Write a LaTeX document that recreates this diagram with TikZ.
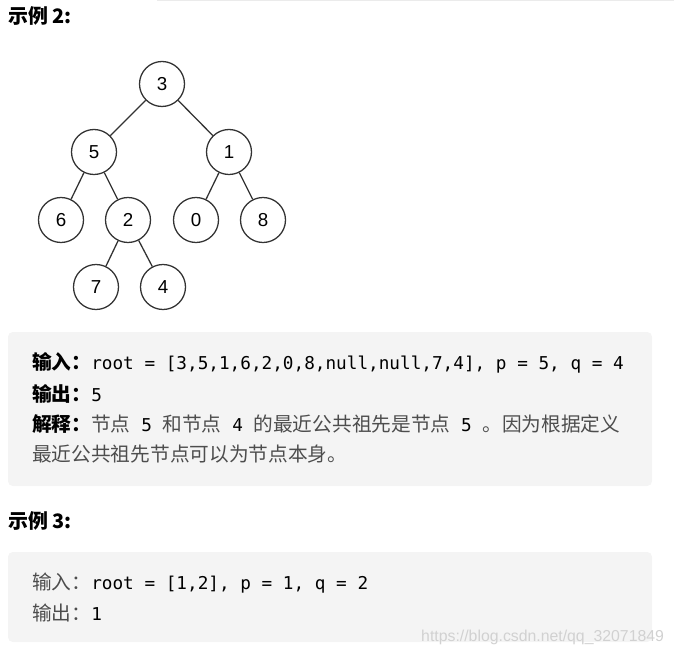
\documentclass[tikz,border=0pt]{standalone}
\usepackage{fontspec}
\setmainfont{Liberation Sans}
\setmonofont{DejaVu Sans Mono}
\newfontfamily\cjk{Noto Sans CJK SC}
\definecolor{boxgray}{HTML}{F4F4F4}
\definecolor{edgegray}{HTML}{333333}
\definecolor{bodygray}{HTML}{4D4D4D}
\newcommand{\lbl}[1]{{\cjk\bfseries\color{black}#1}}
\newcommand{\plainlbl}[1]{{\cjk\color{bodygray}#1}}
\newcommand{\zh}[1]{{\cjk\color{bodygray}#1}}
\newcommand{\code}[1]{{\ttfamily\fontsize{15.1}{20}\selectfont\color{black}\relax#1}}

\begin{document}
\begin{tikzpicture}[x=0.03cm, y=-0.03cm,
		treenode/.style={circle, draw=edgegray, line width=1.1pt, minimum size=1.35cm, inner sep=0pt, font=\fontsize{16}{18}\selectfont},
		treeedge/.style={draw=edgegray, line width=1.1pt},
		title/.style={anchor=west, inner sep=0pt, font=\fontsize{17}{19}\selectfont\cjk\bfseries},
		textline/.style={anchor=west, inner sep=0pt, font=\fontsize{16.8}{20}\selectfont},
		codebox/.style={fill=boxgray, rounded corners=4pt, draw=none}]
		%%%%% START %%%%%
		
		\useasboundingbox (0, 0) rectangle (674, 656);
		\draw[black!8] (157, 0.5) -- (674, 0.5);
		
		\node[title] (title2) at (8, 16) {示例 2:};
		
		\node[treenode] (n3) at (162, 84) {3};
		\node[treenode] (n5) at (94, 152) {5};
		\node[treenode] (n1) at (229, 152) {1};
		\node[treenode] (n6) at (61, 220) {6};
		\node[treenode] (n2) at (128, 220) {2};
		\node[treenode] (n0) at (196, 220) {0};
		\node[treenode] (n8) at (263, 220) {8};
		\node[treenode] (n7) at (96, 287) {7};
		\node[treenode] (n4) at (163, 287) {4};
		
		\draw[treeedge] (n3) -- (n5);
		\draw[treeedge] (n3) -- (n1);
		\draw[treeedge] (n5) -- (n6);
		\draw[treeedge] (n5) -- (n2);
		\draw[treeedge] (n1) -- (n0);
		\draw[treeedge] (n1) -- (n8);
		\draw[treeedge] (n2) -- (n7);
		\draw[treeedge] (n2) -- (n4);
		
		\draw[codebox] (8, 332) rectangle (652, 486);
		\node[textline] (in2) at (32, 363) {\lbl{输入：}\code{root = [3,5,1,6,2,0,8,null,null,7,4], p = 5, q = 4}};
		\node[textline] (out2) at (32, 394) {\lbl{输出：}\code{5}};
		\node[textline] (why2) at (32, 424) {\lbl{解释：}\zh{节点}\code{\ 5\ }\zh{和节点}\code{\ 4\ }\zh{的最近公共祖先是节点}\code{\ 5\ }\zh{。因为根据定义}};
		\node[textline] (why2b) at (32, 454) {\zh{最近公共祖先节点可以为节点本身。}};
		
		\node[title] (title3) at (8, 521) {示例 3:};
		
		\draw[codebox] (8, 552) rectangle (652, 642);
		\node[textline] (in3) at (32, 583) {\plainlbl{输入：}\code{root = [1,2], p = 1, q = 2}};
		\node[textline] (out3) at (32, 613) {\plainlbl{输出：}\code{1}};
		
		\node[anchor=west, inner sep=0pt, text=black!18, font=\fontsize{13.5}{15}\selectfont] (mark) at (421, 637) {https://blog.csdn.net/qq\_32071849};
		
		%%%%% END %%%%%
\end{tikzpicture}
\end{document}
